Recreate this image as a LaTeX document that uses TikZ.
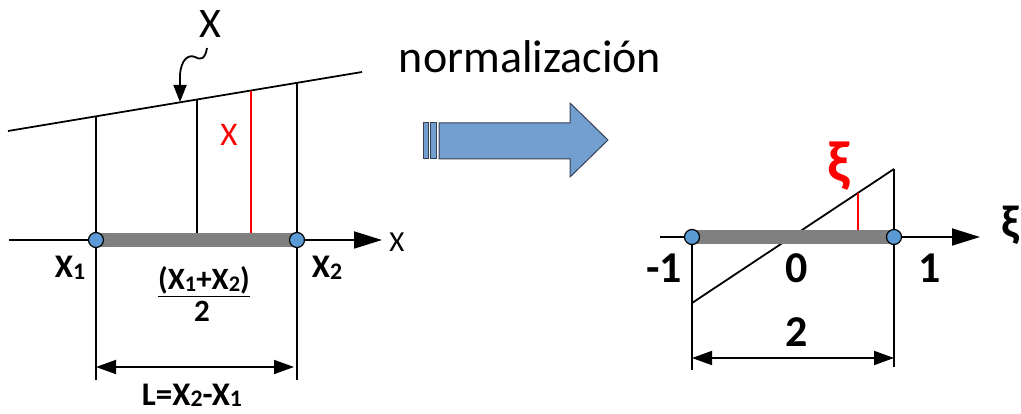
\documentclass[tikz,border=0pt]{standalone}
\usepackage{fontspec}
\usepackage{graphicx}
\setmainfont{Carlito}
\usetikzlibrary{arrows.meta}

\definecolor{dotblue}{RGB}{91,155,213}
\definecolor{bargray}{RGB}{128,128,128}
\definecolor{shaftblue}{RGB}{114,159,207}
\definecolor{shaftedge}{RGB}{55,65,85}
\definecolor{xired}{RGB}{255,0,0}

\newcommand{\lowdig}[1]{\raisebox{-0.1ex}{\scalebox{0.72}{#1}}}

\tikzset{
  every node/.style={inner sep=0pt},
  thinline/.style={line width=1.8pt},
  dotend/.style={circle, draw=black, fill=dotblue, line width=1.2pt, minimum size=15pt},
  graybar/.style={draw=bargray, line width=14pt},
  axisarrow/.style={line width=1.8pt, -{Triangle[length=28pt,width=17pt]}},
  dimarrow/.style={line width=1.8pt, {Triangle[length=20pt,width=14pt]}-{Triangle[length=20pt,width=14pt]}},
  boldlbl/.style={anchor=base, font=\bfseries\fontsize{33}{36}\selectfont},
  fraclbl/.style={anchor=base, font=\bfseries\fontsize{31}{33}\selectfont},
  biglbl/.style={anchor=base, font=\bfseries\fontsize{44}{48}\selectfont},
  blockarrow/.style={fill=shaftblue, draw=shaftedge, line width=1pt},
}

\begin{document}
\begin{tikzpicture}[x=1pt, y=-1pt]
\useasboundingbox (0,0) rectangle (1021,414);

% left: curve X and axis
\coordinate (lt) at (8,131);
\coordinate (rt) at (362,72);
\draw[thinline] (lt) -- (rt);
\draw[axisarrow] (9,240) -- (382,240);

% verticals under the curve
\draw[thinline] (96,116) -- (96,380);
\draw[thinline] (297,83) -- (297,380);
\draw[thinline] (197,100) -- (197,235);
\draw[thinline, xired] (251,91) -- (251,235);

% element and its end nodes
\draw[graybar] (96,240) -- (297,240);
\node[dotend] (x1) at (96,240) {};
\node[dotend] (x2) at (297,240) {};

% length of the element
\draw[dimarrow] (96,367) -- (294,367);

% wavy pointer to the curve
\draw[thinline, -{Triangle[length=17pt,width=13pt]}]
    (207,48) .. controls (205,60) and (200,60) .. (195,57)
    .. controls (188,54) and (181,60) .. (180,75) -- (180,102);

\node[anchor=base, font=\fontsize{42}{46}\selectfont] (xcurve) at (210,38) {X};
\node[anchor=base, font=\fontsize{33}{36}\selectfont, text=xired] (xred) at (229,146) {X};
\node[anchor=base, font=\fontsize{29}{32}\selectfont] (xaxis) at (397,252) {X};
\node[boldlbl] (lx1) at (70,278) {X\lowdig{1}};
\node[boldlbl] (lx2) at (327,278) {X\lowdig{2}};
\node[fraclbl] (fnum) at (204,290) {\underline{(X\lowdig{1}+X\lowdig{2})}};
\node[fraclbl] (fden) at (202,322) {2};
\node[boldlbl] (len) at (192,405) {L=X\lowdig{2}-X\lowdig{1}};

% middle: block arrow
\node[anchor=base, font=\fontsize{46}{50}\selectfont] (norm) at (530,73) {normalización};
\filldraw[blockarrow] (439,123) -- (570,123) -- (570,103) -- (608,140)
    -- (570,177) -- (570,159) -- (439,159) -- cycle;
\filldraw[blockarrow] (423,123) rectangle (428,159);
\filldraw[blockarrow] (430,123) rectangle (436,159);

% right: normalized element
\draw[axisarrow] (660,237) -- (980,237);
\draw[thinline] (692,237) -- (692,370);
\draw[thinline] (894,169) -- (894,367);
\draw[thinline] (692,303) -- (894,169);
\draw[thinline, xired] (858,193) -- (858,231);

\draw[graybar] (692,237) -- (894,237);
\node[dotend] (xi1) at (692,237) {};
\node[dotend] (xi2) at (894,237) {};

\draw[dimarrow] (692,358) -- (894,358);

\node[biglbl] (m1) at (664,283) {-1};
\node[biglbl] (zero) at (797,283) {0};
\node[biglbl] (one) at (930,283) {1};
\node[biglbl] (two) at (797,347) {2};
\node[font=\bfseries\fontsize{58}{62}\selectfont, text=xired] (xired) at (839,166) {ξ};
\node[font=\bfseries\fontsize{46}{50}\selectfont, anchor=west] (xiaxis) at (1001,225) {ξ};

\end{tikzpicture}
\end{document}
